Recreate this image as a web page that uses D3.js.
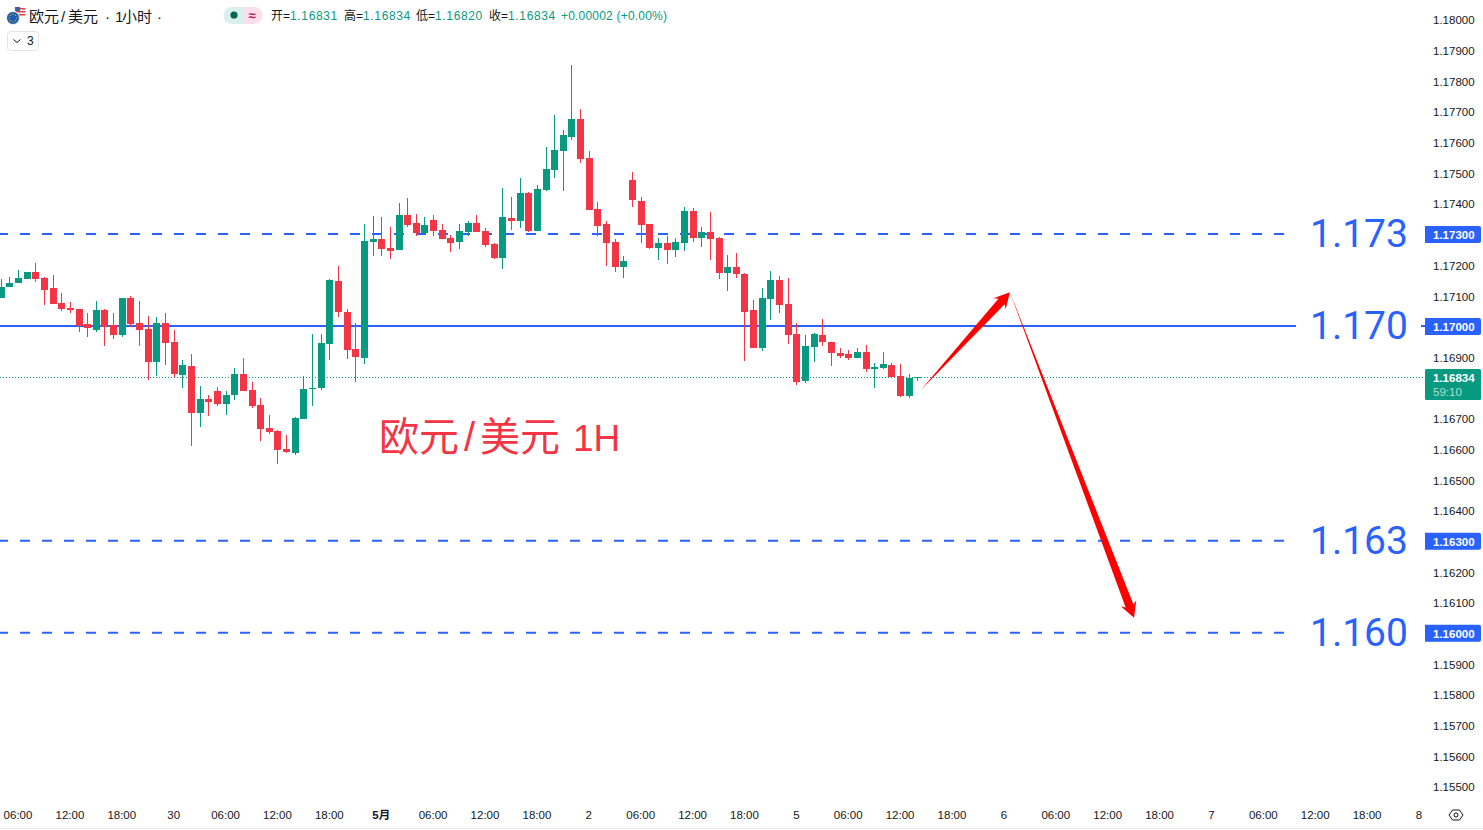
<!DOCTYPE html>
<html>
<head>
<meta charset="utf-8">
<script src="https://cdn.jsdelivr.net/npm/d3@7"></script>
<style>
  html, body { margin: 0; padding: 0; background: #fff; overflow: hidden; }
  svg { display: block; }
</style>
</head>
<body>
<svg id="chart"></svg>
<script>
// Candles, hourly, the first one is two bars before the 06:00 tick
const firstBar = -2;
const opens = [
  1.17091,1.17127,1.17140,1.17153,1.17176,1.17156,1.17124,1.17075,1.17059,1.17055,
  1.17007,1.16987,1.17052,1.17003,1.16971,1.17091,1.17010,1.16990,1.16883,1.17010,
  1.16948,1.16840,1.16870,1.16716,1.16762,1.16788,1.16746,1.16775,1.16844,1.16791,
  1.16743,1.16668,1.16658,1.16599,1.16586,1.16697,1.16795,1.16798,1.16941,1.17147,
  1.17046,1.16925,1.16896,1.17274,1.17284,1.17254,1.17248,1.17362,1.17336,1.17303,
  1.17346,1.17313,1.17287,1.17274,1.17306,1.17336,1.17310,1.17267,1.17222,1.17352,
  1.17342,1.17434,1.17310,1.17443,1.17508,1.17570,1.17616,1.17675,1.17548,1.17381,
  1.17332,1.17274,1.17192,1.17476,1.17407,1.17332,1.17254,1.17271,1.17248,1.17271,
  1.17375,1.17287,1.17306,1.17287,1.17173,1.17192,1.17169,1.17052,1.16928,1.17088,
  1.17150,1.17072,1.16974,1.16821,1.16932,1.16971,1.16948,1.16912,1.16909,1.16896,
  1.16915,1.16860,1.16863,1.16873,1.16837,1.16772,1.16831
];
const highs = [
  1.17153,1.17160,1.17183,1.17176,1.17205,1.17160,1.17166,1.17108,1.17078,1.17055,
  1.17042,1.17081,1.17055,1.17042,1.17091,1.17098,1.17081,1.17033,1.17029,1.17042,
  1.16987,1.16889,1.16909,1.16804,1.16775,1.16801,1.16788,1.16863,1.16896,1.16817,
  1.16765,1.16710,1.16661,1.16645,1.16703,1.16837,1.16974,1.16974,1.17153,1.17196,
  1.17055,1.17010,1.17332,1.17359,1.17355,1.17323,1.17401,1.17417,1.17365,1.17355,
  1.17362,1.17332,1.17297,1.17332,1.17342,1.17362,1.17319,1.17271,1.17450,1.17420,
  1.17482,1.17437,1.17460,1.17583,1.17688,1.17639,1.17851,1.17707,1.17570,1.17404,
  1.17342,1.17284,1.17228,1.17502,1.17420,1.17332,1.17287,1.17293,1.17287,1.17388,
  1.17385,1.17323,1.17372,1.17290,1.17231,1.17238,1.17173,1.17085,1.17124,1.17179,
  1.17163,1.17156,1.17010,1.16971,1.16977,1.17023,1.16948,1.16928,1.16922,1.16928,
  1.16938,1.16879,1.16915,1.16879,1.16876,1.16844,1.16834
];
const lows = [
  1.17091,1.17127,1.17140,1.17153,1.17143,1.17068,1.17072,1.17049,1.17042,1.16980,
  1.16964,1.16980,1.16935,1.16958,1.16964,1.16997,1.16935,1.16824,1.16837,1.16873,
  1.16834,1.16798,1.16609,1.16671,1.16707,1.16739,1.16710,1.16759,1.16788,1.16733,
  1.16625,1.16648,1.16550,1.16586,1.16580,1.16697,1.16739,1.16791,1.16889,1.17029,
  1.16892,1.16817,1.16876,1.17228,1.17228,1.17218,1.17248,1.17323,1.17293,1.17303,
  1.17293,1.17284,1.17241,1.17251,1.17293,1.17306,1.17257,1.17218,1.17186,1.17313,
  1.17319,1.17306,1.17310,1.17440,1.17482,1.17440,1.17606,1.17531,1.17378,1.17293,
  1.17196,1.17176,1.17156,1.17388,1.17271,1.17251,1.17215,1.17202,1.17225,1.17244,
  1.17274,1.17257,1.17215,1.17153,1.17114,1.17156,1.16886,1.16928,1.16919,1.17020,
  1.17042,1.16941,1.16808,1.16814,1.16883,1.16935,1.16870,1.16896,1.16889,1.16896,
  1.16850,1.16798,1.16860,1.16834,1.16769,1.16765,1.16820
];
const closes = [
  1.17127,1.17140,1.17156,1.17176,1.17153,1.17117,1.17072,1.17055,1.17052,1.17000,
  1.16993,1.17052,1.16997,1.16971,1.17091,1.17007,1.16987,1.16883,1.17010,1.16945,
  1.16844,1.16873,1.16716,1.16762,1.16752,1.16746,1.16775,1.16844,1.16788,1.16739,
  1.16664,1.16654,1.16596,1.16589,1.16700,1.16795,1.16798,1.16945,1.17150,1.17046,
  1.16922,1.16899,1.17277,1.17284,1.17251,1.17244,1.17362,1.17329,1.17303,1.17329,
  1.17310,1.17284,1.17271,1.17310,1.17336,1.17306,1.17264,1.17222,1.17355,1.17342,
  1.17434,1.17310,1.17447,1.17512,1.17574,1.17623,1.17675,1.17544,1.17378,1.17326,
  1.17271,1.17192,1.17212,1.17411,1.17329,1.17254,1.17271,1.17248,1.17274,1.17375,
  1.17287,1.17306,1.17284,1.17173,1.17192,1.17169,1.17046,1.16928,1.17091,1.17150,
  1.17068,1.16971,1.16817,1.16935,1.16974,1.16948,1.16912,1.16902,1.16896,1.16915,
  1.16860,1.16866,1.16876,1.16834,1.16772,1.16831,1.16834
];

// Bottom axis: one label every six bars
const timeTicks = [0,6,12,18,24,30,36,42,48,54,60,66,72,78,84,90,96,102,108,114,120,126,132,138,144,150,156,162];
const timeLabels = ["06:00","12:00","18:00","30","06:00","12:00","18:00","5月","06:00","12:00","18:00","2",
  "06:00","12:00","18:00","5","06:00","12:00","18:00","6","06:00","12:00","18:00","7","06:00","12:00","18:00","8"];

// Right axis, 1.168 sits under the last price tag so it is left out
const priceTicks = [1.18,1.179,1.178,1.177,1.176,1.175,1.174,1.173,1.172,1.171,1.17,1.169,1.167,1.166,
  1.165,1.164,1.163,1.162,1.161,1.16,1.159,1.158,1.157,1.156,1.155];

// Horizontal levels
const levelPrices = [1.173, 1.17, 1.163, 1.16];
const levelLabels = ["1.173", "1.170", "1.163", "1.160"];
const levelDashed = [true, false, true, true];
const lastPrice = 1.16834;
const countdown = "59:10";

// Drawn arrows, as [bar, price]
const arrowStarts = [[104.4, 1.16791], [114.7, 1.17110]];
const arrowEnds = [[114.7, 1.17110], [129.05, 1.16049]];

// Header
const titleParts = ["欧元", "/", "美元", "·", "1", "小时", "·"];
const noteParts = ["欧元", "/", "美元", "1H"];
const ohlcNames = ["开=", "高=", "低=", "收="];
const ohlcValues = ["1.16831", "1.16834", "1.16820", "1.16834"];
const changeText = "+0.00002 (+0.00%)";

const width = 1483, height = 830;
const plotRight = 1425, axisTop = 800;
const up = "#089981", down = "#f23645", blue = "#2962ff", ink = "#131722";
const latin = "'Liberation Sans', Arial, sans-serif";
const cjk = "'Liberation Sans', 'Noto Sans CJK SC', sans-serif";

const svg = d3.select("#chart")
  .attr("width", width)
  .attr("height", height)
  .style("background", "#fff");

const xScale = d3.scaleLinear().domain([0, 162]).range([18, 1419]);
const yScale = d3.scaleLinear().domain([1.16, 1.17]).range([632.8, 326]);

// Levels sit behind the candles
const plot = svg.append("g");
levelPrices.forEach((p, i) => {
  plot.append("line")
    .attr("x1", 0).attr("x2", plotRight)
    .attr("y1", yScale(p)).attr("y2", yScale(p))
    .attr("stroke", blue)
    .attr("stroke-width", 2)
    .attr("stroke-dasharray", levelDashed[i] ? "10 12" : null)
    .attr("stroke-dashoffset", levelDashed[i] ? 2 : null);
});

// Last price dotted line
plot.append("line")
  .attr("x1", 0).attr("x2", plotRight)
  .attr("y1", Math.round(yScale(lastPrice)) + 0.5).attr("y2", Math.round(yScale(lastPrice)) + 0.5)
  .attr("stroke", up)
  .attr("stroke-width", 1)
  .attr("stroke-dasharray", "1 2");

// Candles
const bars = opens.map((o, i) => ({ i: firstBar + i, o, h: highs[i], l: lows[i], c: closes[i] }));
const candle = svg.append("g").attr("shape-rendering", "crispEdges")
  .selectAll("g").data(bars).enter().append("g")
  .attr("fill", d => d.c >= d.o ? up : down);

candle.append("rect")
  .attr("x", d => Math.round(xScale(d.i)) - 0.5)
  .attr("width", 1.3)
  .attr("y", d => yScale(d.h))
  .attr("height", d => yScale(d.l) - yScale(d.h));

candle.append("rect")
  .attr("x", d => Math.round(xScale(d.i)) - 3.5)
  .attr("width", 7)
  .attr("y", d => yScale(Math.max(d.o, d.c)))
  .attr("height", d => Math.max(1, Math.abs(yScale(d.o) - yScale(d.c))));

// Tapered arrows, thin at the tail
function arrowPoints(a, b) {
  const x0 = xScale(a[0]), y0 = yScale(a[1]), x1 = xScale(b[0]), y1 = yScale(b[1]);
  const len = Math.hypot(x1 - x0, y1 - y0);
  const ux = (x1 - x0) / len, uy = (y1 - y0) / len;
  const nx = -uy, ny = ux;
  const headLen = 15.5, neckBack = 12.5, wing = 8.3, neck = 4.2;
  const at = (back, side) => [x1 - ux * back + nx * side, y1 - uy * back + ny * side];
  return [[x0, y0], at(neckBack, neck), at(headLen, wing), [x1, y1], at(headLen, -wing), at(neckBack, -neck)];
}
const arrows = arrowStarts.map((s, i) => arrowPoints(s, arrowEnds[i]));
svg.append("g").selectAll("polygon").data(arrows).enter().append("polygon")
  .attr("points", d => d.map(p => p.join(",")).join(" "))
  .attr("fill", "#ff0000");

// Red chart note, the parts are placed one by one for the wide slash
const noteX = [379, 464, 480, 573];
const note = svg.append("text")
  .attr("y", 451)
  .attr("font-family", cjk)
  .attr("font-size", 40)
  .attr("fill", down);
noteParts.forEach((part, i) => {
  note.append("tspan")
    .attr("x", noteX[i])
    .attr("font-size", part === "1H" ? 37 : 40)
    .text(part);
});

// Big level labels on white boxes
const bigLabels = svg.append("g").selectAll("g").data(levelPrices).enter().append("g");
bigLabels.append("rect")
  .attr("x", 1296).attr("width", 125)
  .attr("y", d => yScale(d) - 24).attr("height", 48)
  .attr("fill", "#fff");
bigLabels.append("text")
  .attr("x", 1310)
  .attr("y", d => yScale(d) + 13)
  .attr("font-family", "Roboto, sans-serif")
  .attr("font-size", 39)
  .attr("fill", blue)
  .text((d, i) => levelLabels[i]);

// Right axis
const yAxis = svg.append("g")
  .attr("transform", `translate(${plotRight}, 1)`)
  .call(d3.axisRight(yScale).tickValues(priceTicks).tickFormat(d3.format(".5f")).tickSize(0).tickPadding(8));
yAxis.select(".domain").remove();
yAxis.selectAll("text").attr("font-family", latin).attr("font-size", 11.5).attr("fill", ink);

// Level tags over the axis
const tags = svg.append("g").selectAll("g").data(levelPrices).enter().append("g");
tags.append("path")
  .attr("d", d => {
    const t = yScale(d) - 8;
    return `M${plotRight},${t}h54q2,0 2,2v13q0,2 -2,2h-54z`;
  })
  .attr("fill", blue);
tags.append("text")
  .attr("x", plotRight + 8)
  .attr("y", d => yScale(d) + 5)
  .attr("font-family", latin)
  .attr("font-size", 11.5)
  .attr("font-weight", 700)
  .attr("fill", "#fff")
  .text(d => d3.format(".5f")(d));

// Last price tag with the countdown
svg.append("rect")
  .attr("x", plotRight).attr("y", 369)
  .attr("width", 56).attr("height", 31)
  .attr("rx", 1.5)
  .attr("fill", up);
svg.append("text")
  .attr("x", plotRight + 8).attr("y", 382)
  .attr("font-family", latin).attr("font-size", 11.5).attr("font-weight", 700)
  .attr("fill", "#fff")
  .text(d3.format(".5f")(lastPrice));
svg.append("text")
  .attr("x", plotRight + 8).attr("y", 396)
  .attr("font-family", latin).attr("font-size", 11.5)
  .attr("fill", "#fff").attr("fill-opacity", 0.7)
  .text(countdown);

// Bottom axis
const xAxis = svg.append("g")
  .attr("transform", `translate(-0.5, ${axisTop})`)
  .call(d3.axisBottom(xScale).tickValues(timeTicks).tickFormat((d, i) => timeLabels[i]).tickSize(0).tickPadding(10.5));
xAxis.select(".domain").remove();
xAxis.selectAll("text")
  .attr("font-family", cjk)
  .attr("font-size", 11.5)
  .attr("fill", ink)
  .attr("font-weight", (d, i) => timeLabels[i] === "5月" ? 700 : 400);

svg.append("line")
  .attr("x1", 0).attr("x2", width)
  .attr("y1", 828.5).attr("y2", 828.5)
  .attr("stroke", "#e6e8ee");

// Settings icon next to the axes
const gear = svg.append("g")
  .attr("transform", "translate(1456, 815)")
  .attr("fill", "none").attr("stroke", ink).attr("stroke-width", 1);
gear.append("path").attr("d", "M-7,0L-3.5,-5H3.5L7,0L3.5,5H-3.5Z");
gear.append("circle").attr("r", 2);

// Header: pair icon
const icon = svg.append("g");
icon.append("circle").attr("cx", 20).attr("cy", 11.5).attr("r", 5.5).attr("fill", "#f4f4f6");
[8, 11, 14].forEach(y => {
  icon.append("rect").attr("x", 16).attr("y", y).attr("width", 9.5).attr("height", 1.5).attr("fill", "#e2414c");
});
icon.append("rect").attr("x", 15).attr("y", 7).attr("width", 5).attr("height", 4).attr("fill", "#3d5fa8");
icon.append("circle").attr("cx", 13).attr("cy", 18).attr("r", 6.5)
  .attr("fill", "#1f5fae").attr("stroke", "#fff").attr("stroke-width", 0.8);
d3.range(0, 8).forEach(k => {
  const a = k * Math.PI / 4;
  icon.append("circle")
    .attr("cx", 13 + 3.8 * Math.cos(a)).attr("cy", 18 + 3.8 * Math.sin(a))
    .attr("r", 0.6).attr("fill", "#f1c933");
});

// Header title, also placed part by part
const titleX = [29, 61, 68, 105, 115, 122, 157];
const title = svg.append("text")
  .attr("y", 21.5)
  .attr("font-family", cjk)
  .attr("font-size", 15)
  .attr("fill", ink);
titleParts.forEach((part, i) => {
  title.append("tspan").attr("x", titleX[i]).text(part);
});

// Header: market status chip
svg.append("path").attr("d", "M232,7h11v17h-11a8.5,8.5 0 0 1 0,-17z").attr("fill", "#daf0ec");
svg.append("path").attr("d", "M243,7h11a8.5,8.5 0 0 1 0,17h-11z").attr("fill", "#fddfe9");
svg.append("circle").attr("cx", 234).attr("cy", 15).attr("r", 3.6).attr("fill", "#056656");
svg.append("text")
  .attr("x", 252).attr("y", 19.5)
  .attr("text-anchor", "middle")
  .attr("font-family", latin).attr("font-size", 13).attr("font-weight", 700)
  .attr("fill", "#b2145a")
  .text("≈");

// Header: OHLC
const ohlcX = [271, 344, 416, 489];
ohlcNames.forEach((name, i) => {
  const t = svg.append("text")
    .attr("x", ohlcX[i]).attr("y", 20)
    .attr("font-family", cjk)
    .attr("font-size", 12);
  t.append("tspan").attr("fill", ink).text(name);
  t.append("tspan").attr("fill", up).attr("letter-spacing", 0.65).text(ohlcValues[i]);
});
svg.append("text")
  .attr("x", 561).attr("y", 20)
  .attr("font-family", latin)
  .attr("font-size", 12)
  .attr("letter-spacing", 0.2)
  .attr("fill", up)
  .text(changeText);

// Collapsed indicators button
svg.append("rect")
  .attr("x", 7.5).attr("y", 31.5)
  .attr("width", 31).attr("height", 19)
  .attr("rx", 3)
  .attr("fill", "#fff").attr("stroke", "#e0e3eb");
svg.append("path")
  .attr("d", "M13.5,39.5l3.5,3l3.5,-3")
  .attr("fill", "none").attr("stroke", ink).attr("stroke-width", 1);
svg.append("text")
  .attr("x", 27).attr("y", 45)
  .attr("font-family", latin).attr("font-size", 12).attr("fill", ink)
  .text("3");
</script>
</body>
</html>
